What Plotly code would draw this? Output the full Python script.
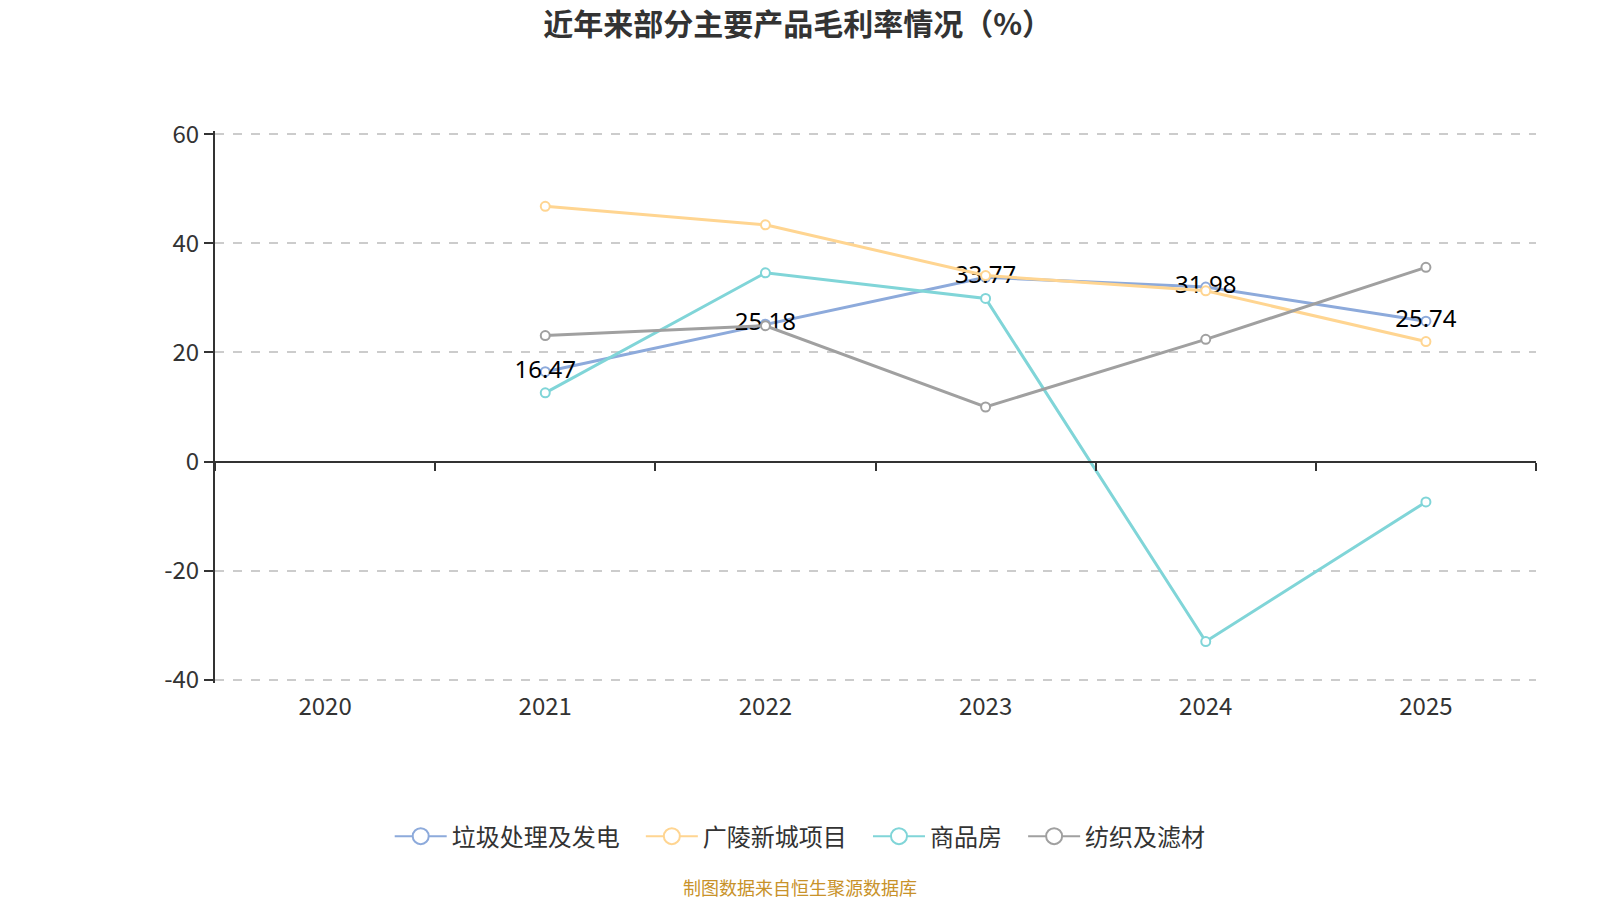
import plotly.graph_objects as go

years = ["2020", "2021", "2022", "2023", "2024", "2025"]
s_names = ["垃圾处理及发电", "广陵新城项目", "商品房", "纺织及滤材"]
v_laji = [None, 16.47, 25.18, 33.77, 31.98, 25.74]
v_guangling = [None, 46.8, 43.4, 34.1, 31.3, 22.0]
v_shangpin = [None, 12.6, 34.6, 29.9, -33.0, -7.4]
v_fangzhi = [None, 23.1, 24.9, 10.0, 22.4, 35.6]
colors = ["#8DAADB", "#FFD591", "#80D5D8", "#A0A0A0"]
yticks = [-40, -20, 0, 20, 40, 60]
ytick_text = ["-40", "-20", "0", "20", "40", "60"]

FONT = "Noto Sans CJK SC, Noto Sans, sans-serif"
PAD = 0.6  # small range padding so the edge gridlines are drawn
PXU = 546 / 100.0  # pixels per unit

fig = go.Figure()
series = [v_laji, v_guangling, v_shangpin, v_fangzhi]
for i, (name, vals) in enumerate(zip(s_names, series)):
    fig.add_trace(go.Scatter(
        x=years, y=vals, name=name, mode="lines+markers+text" if i == 0 else "lines+markers",
        line=dict(color=colors[i], width=3),
        marker=dict(symbol="circle", size=9, color="white", line=dict(color=colors[i], width=2)),
        text=[("" if v is None else f"{v:.2f}") for v in vals] if i == 0 else None,
        textposition="middle center",
        textfont=dict(size=24, color="#000000", family="Segoe UI, Noto Sans, sans-serif"),
        cliponaxis=False, showlegend=False, legendgroup=name,
    ))
    # legend entry with a large open circle
    label = name + ("\u00a0\u00a0\u00a0" if i < len(s_names) - 1 else "")
    fig.add_trace(go.Scatter(
        x=[None], y=[None], name=label, mode="lines+markers", legendgroup=name,
        line=dict(color=colors[i], width=2),
        marker=dict(symbol="circle", size=20, color="white", line=dict(color=colors[i], width=2)),
        hoverinfo="skip",
    ))

# helper axis to draw the category-boundary ticks on the zero line
fig.add_trace(go.Scatter(x=years, y=[None]*6, xaxis="x2", showlegend=False, hoverinfo="skip"))

top_m = 134 - PAD * PXU
bot_m = 220 - PAD * PXU
plot_h = 900 - top_m - bot_m
zero_frac = (0 - (-40 - PAD)) / (100 + 2 * PAD)

fig.update_layout(
    width=1600, height=900,
    paper_bgcolor="white", plot_bgcolor="white",
    margin=dict(l=215, r=64, t=top_m, b=bot_m),
    title=dict(text="<b>近年来部分主要产品毛利率情况（%）</b>", x=0.4985, xref="container", xanchor="center",
               y=1 - 24 / 900, yref="container", yanchor="middle",
               font=dict(size=30, color="#333333", family=FONT)),
    font=dict(family=FONT, color="#333333"),
    xaxis=dict(type="category", categoryorder="array", categoryarray=years, range=[-0.5, 5.5],
               showline=False, showgrid=False, ticks="", tickfont=dict(size=24, color="#333333"),
               ticklabelstandoff=7, zeroline=False),
    xaxis2=dict(type="category", categoryorder="array", categoryarray=years, range=[-0.5, 5.5],
                overlaying="x", anchor="free", position=zero_frac, side="bottom",
                showline=True, linecolor="#333333", linewidth=2, tickson="boundaries",
                ticks="outside", ticklen=8, tickwidth=2, tickcolor="#333333",
                showticklabels=False, showgrid=False, zeroline=False),
    yaxis=dict(range=[-40 - PAD, 60 + PAD], tickvals=yticks, ticktext=ytick_text,
               showline=True, linecolor="#333333", linewidth=2,
               ticks="outside", ticklen=9, tickwidth=2, tickcolor="#333333",
               tickfont=dict(size=24, color="#333333"),
               showgrid=True, gridcolor="#CCCCCC", griddash="dash", gridwidth=1.5,
               zeroline=False),
    legend=dict(orientation="h", x=0.443, xanchor="center",
                y=(900 - bot_m - 837) / plot_h, yanchor="middle",
                font=dict(size=24, color="#333333", family=FONT), itemwidth=52,
                bgcolor="rgba(0,0,0,0)"),
    annotations=[dict(text="制图数据来自恒生聚源数据库", x=0.443, xref="paper",
                      y=(900 - bot_m - 887) / plot_h, yref="paper",
                      xanchor="center", yanchor="middle", showarrow=False,
                      font=dict(size=18, color="#C8922A", family=FONT))],
)

fig.write_html("out.html")
